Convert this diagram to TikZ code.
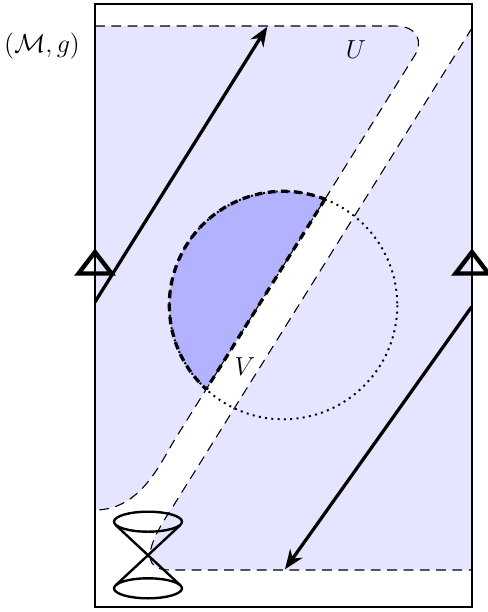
\documentclass[tikz,border=0pt]{standalone}
\usetikzlibrary{arrows.meta}
\begin{document}
\begin{tikzpicture}[x=0.46pt,y=-0.46pt,
  every node/.style={font=\fontsize{11.5}{14}\selectfont},
  regionfill/.style={fill=blue!10},
  vfill/.style={fill=blue!30},
  uborder/.style={dash pattern=on 4.5pt off 3pt, line width=0.5pt},
  vborder/.style={dash pattern=on 3.5pt off 2.5pt, line width=1.5pt},
  ball/.style={dotted, line width=0.9pt},
  vec/.style={line width=1.5pt, -{Stealth[length=9pt,width=7pt]}},
  frame/.style={line width=1pt},
  ident/.style={line width=2pt, line join=miter},
  cone/.style={line width=1.1pt}]
\useasboundingbox (0,0) rectangle (488,612);
% named points
\coordinate (TL) at (95,4);
\coordinate (BR) at (472,607);
\coordinate (c) at (283.3,305.3);
\coordinate (v1) at (325,199.2);
\coordinate (v2) at (206.2,389.3);
% region U (two parts)
\fill[regionfill] (95,26) -- (395,26) .. controls (418,26) and (423,42) .. (415,55)
  -- (174.5,440) .. controls (160,464) and (140,510) .. (95,510) -- cycle;
\fill[regionfill] (472,28) -- (170.75,510) .. controls (147,545) and (140,570) .. (170,570)
  -- (472,570) -- cycle;
% region V
\begin{scope}
  \clip (449.5,0) -- (67,612) -- (0,612) -- (0,0) -- cycle;
  \fill[vfill] (c) circle[radius=114];
\end{scope}
% U borders
\draw[uborder] (95,26) -- (395,26) .. controls (418,26) and (423,42) .. (415,55)
  -- (174.5,440) .. controls (160,464) and (140,510) .. (95,510);
\draw[uborder] (472,28) -- (170.75,510) .. controls (147,545) and (140,570) .. (170,570)
  -- (472,570);
% ball
\draw[ball] (c) circle[radius=114];
% V border
\begin{scope}
  \clip (449.5,0) -- (67,612) -- (0,612) -- (0,0) -- cycle;
  \draw[vborder] (c) circle[radius=114];
\end{scope}
\draw[vborder] (v1) -- (v2);
% vectors
\coordinate (a1s) at (95,302);
\coordinate (a1e) at (267.3,26.7);
\coordinate (a2s) at (471.7,306.7);
\coordinate (a2e) at (285,569.3);
\draw[vec] (a1s) -- (a1e);
\draw[vec] (a2s) -- (a2e);
% frame
\draw[frame] (TL) rectangle (BR);
% identification marks
\draw[ident] (95,252) -- (111.5,273.5) -- (78.5,273.5) -- cycle;
\draw[ident] (472,252) -- (488.5,273.5) -- (455.5,273.5) -- cycle;
% light cone
\coordinate (apex) at (148,555.2);
\draw[cone] (148,521.7) ellipse[x radius=34, y radius=10];
\draw[cone] (148,588.3) ellipse[x radius=34, y radius=10];
\draw[cone] (115.6,525) -- (apex) -- (180.4,585.3);
\draw[cone] (180.4,525) -- (apex) -- (115.6,585.3);
% labels
\node (Mg) at (42,46) {$(\mathcal{M},g)$};
\node (U) at (356,49.5) {$U$};
\node (V) at (245,366.7) {$V$};
\end{tikzpicture}
\end{document}
